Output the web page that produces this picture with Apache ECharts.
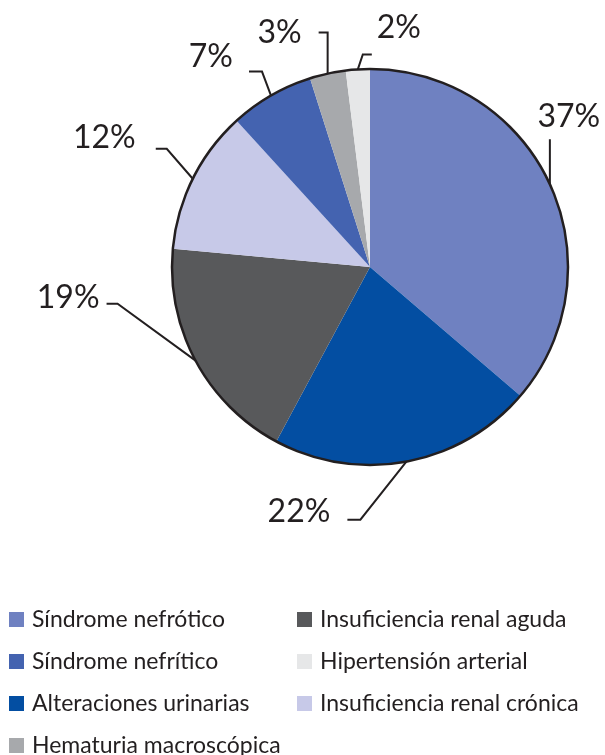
<!DOCTYPE html>
<html>
<head>
<meta charset="utf-8">
<script src="https://cdn.jsdelivr.net/npm/echarts@6/dist/echarts.min.js"></script>
<style>
  html, body { margin: 0; padding: 0; background: #fff; }
  #chart { width: 605px; height: 755px; }
</style>
</head>
<body>
<div id="chart"></div>
<script>
// categories in clockwise order from 12 o'clock
const categories = [
  'Síndrome nefrótico',
  'Alteraciones urinarias',
  'Insuficiencia renal aguda',
  'Insuficiencia renal crónica',
  'Síndrome nefrítico',
  'Hematuria macroscópica',
  'Hipertensión arterial'
]
const values = [37, 22, 19, 12, 7, 3, 2]
const colors = ['#6f81c1', '#034ea2', '#58595b', '#c7c9e8', '#4463b0', '#a7a9ac', '#e6e7e8']

// legend columns
const legendLeft = ['Síndrome nefrótico', 'Síndrome nefrítico', 'Alteraciones urinarias', 'Hematuria macroscópica']
const legendRight = ['Insuficiencia renal aguda', 'Hipertensión arterial', 'Insuficiencia renal crónica']

// leader line shape per slice: elbow offset from the rim, horizontal tail, label gap, label lift
// [dx, dy, tail, gap, lift]
const leaders = [
  [0, -45, 0, 19, 23],
  [-46, 58, -13, 17, 8],
  [-78, -57, -11, 7, 6],
  [-26, -30, -11, 20, 11],
  [-9, -24, -13, 16, 15],
  [0, -41, -9, 17, 0],
  [5, -15, 9, 5, 27]
]

const ink = '#231f20'
const font = 'Lato'

const chart = echarts.init(document.getElementById('chart'))

const legendBase = {
  orient: 'vertical',
  top: 603,
  height: 200,
  itemWidth: 15,
  itemHeight: 15,
  itemGap: 19,
  icon: 'rect',
  selectedMode: false,
  textStyle: { color: ink, fontSize: 23, lineHeight: 23, fontFamily: font, padding: [0, 0, 0, 3] }
}

chart.setOption({
  animation: false,
  color: colors,
  legend: [
    Object.assign({}, legendBase, { left: 4, data: legendLeft }),
    Object.assign({}, legendBase, { left: 292, data: legendRight })
  ],
  series: [
    {
      type: 'pie',
      left: 0,
      top: 0,
      right: -200,
      bottom: 0,
      center: [370, 267],
      radius: 198,
      startAngle: 90,
      avoidLabelOverlap: false,
      data: categories.map((name, i) => ({ name, value: values[i] })),
      itemStyle: { borderWidth: 0 },
      label: {
        formatter: '{c}%',
        color: ink,
        fontSize: 32,
        fontFamily: font
      },
      labelLine: {
        length: 28,
        length2: 12,
        lineStyle: { color: ink, width: 2 }
      },
      labelLayout: function (p) {
        if (!p.labelLinePoints) return {}
        const l = leaders[p.dataIndex]
        const e = p.labelLinePoints[0]
        const elbow = [e[0] + l[0], e[1] + l[1]]
        const end = [elbow[0] + l[2], elbow[1]]
        if (p.dataIndex === 0) {
          // largest slice: vertical leader with the label sitting on top
          return {
            x: end[0] + l[3], y: end[1] - l[4],
            align: 'center', verticalAlign: 'middle',
            labelLinePoints: [e, elbow]
          }
        }
        const right = l[2] > 0
        return {
          x: end[0] + (right ? l[3] : -l[3]),
          y: end[1] - l[4],
          align: right ? 'left' : 'right',
          verticalAlign: 'middle',
          labelLinePoints: [e, elbow, end]
        }
      }
    },
    {
      // outer outline of the pie
      type: 'pie',
      center: [370, 267],
      radius: 198,
      silent: true,
      label: { show: false },
      labelLine: { show: false },
      data: [{ value: 1, name: 'outline', itemStyle: { color: 'rgba(0,0,0,0)', borderColor: ink, borderWidth: 2.5 } }]
    }
  ]
})
</script>
</body>
</html>
